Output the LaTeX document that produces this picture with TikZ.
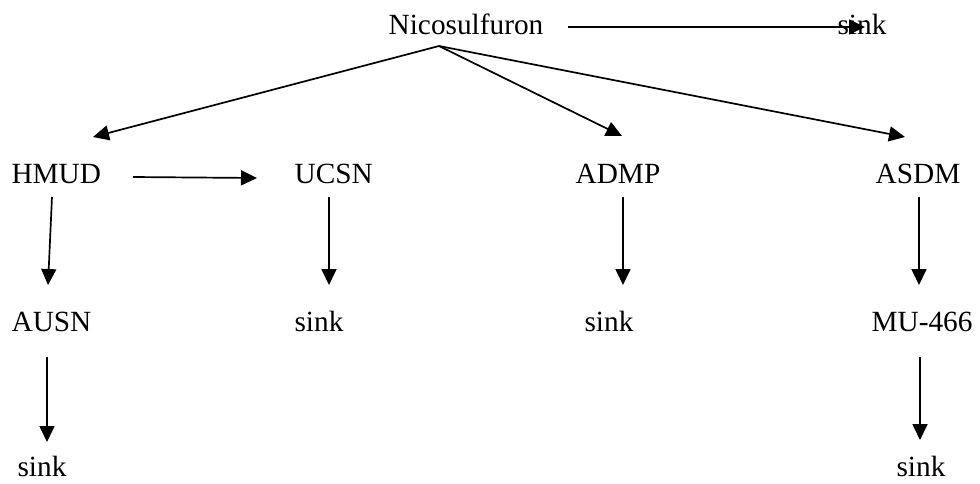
\documentclass[tikz,border=0pt]{standalone}
\usepackage{fontspec}
\setmainfont{Liberation Serif}
\usetikzlibrary{arrows.meta,calc}
\begin{document}
\begin{tikzpicture}[x=1pt,y=1pt,
  lbl/.style={inner sep=0pt,anchor=base,text depth=0pt,font=\fontsize{29.3}{34}\selectfont},
  arr/.style={line width=1.7pt,-{Triangle[length=16pt,width=15pt]}}]
\useasboundingbox (0,0) rectangle (980,-483);
% compounds
\node[lbl] (nico)  at (466,-34)   {Nicosulfuron};
\node[lbl] (sinkT) at (862,-34)   {sink};
\node[lbl] (hmud)  at (56.3,-183) {HMUD};
\node[lbl] (ucsn)  at (333.7,-183) {UCSN};
\node[lbl] (admp)  at (618,-183)  {ADMP};
\node[lbl] (asdm)  at (918,-183)  {ASDM};
\node[lbl] (ausn)  at (51.5,-331) {AUSN};
\node[lbl] (sinkU) at (319,-331)  {sink};
\node[lbl] (sinkA) at (609,-331)  {sink};
\node[lbl] (mu)    at (922,-331)  {MU-466};
\node[lbl] (sinkL) at (42,-476)   {sink};
\node[lbl] (sinkR) at (921,-476)  {sink};
% degradation pathways
\draw[arr] ($(nico.base)+(102,7)$) -- ($(sinkT.base)+(3,7)$);
\draw[arr] ($(nico.base)+(-27,-12)$) -- ($(hmud.base)+(36.7,46)$);
\draw[arr] ($(nico.base)+(-27,-12)$) -- ($(admp.base)+(4,47)$);
\draw[arr] ($(nico.base)+(-27,-12)$) -- ($(asdm.base)+(-13,46)$);
\draw[arr] ($(hmud.base)+(76.7,6)$) -- ($(ucsn.base)+(-76.7,5)$);
\draw[arr] ($(hmud.base)+(-4.3,-14)$) -- ($(ausn.base)+(-3.5,46)$);
\draw[arr] ($(ucsn.base)+(-4.7,-14)$) -- ($(sinkU.base)+(10,46)$);
\draw[arr] ($(admp.base)+(5,-14)$) -- ($(sinkA.base)+(14,46)$);
\draw[arr] ($(asdm.base)+(1,-14)$) -- ($(mu.base)+(-3,46)$);
\draw[arr] ($(ausn.base)+(-4.5,-26)$) -- ($(sinkL.base)+(5,34)$);
\draw[arr] ($(mu.base)+(-2,-26)$) -- ($(sinkR.base)+(-1,36)$);
\end{tikzpicture}
\end{document}
